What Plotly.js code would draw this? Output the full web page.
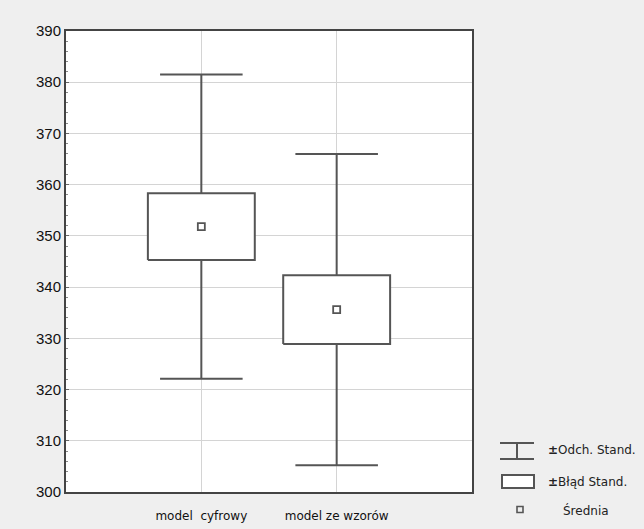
<!DOCTYPE html>
<html>
<head>
<meta charset="utf-8">
<script src="https://cdn.plot.ly/plotly-3.0.1.min.js"></script>
<style>html,body{margin:0;padding:0;background:#efefef;}#chart{width:644px;height:529px;}</style>
</head>
<body>
<div id="chart"></div>
<script>
const categories = ["model  cyfrowy", "model ze wzorów"];
const means = [351.8, 335.6];
const stdErr = [6.5, 6.7];
const stdDev = [29.7, 30.4];
const yTicks = [300, 310, 320, 330, 340, 350, 360, 370, 380, 390];

const boxHalf = 0.395;
const capHalf = 0.305;
const lineColor = '#555555';

const traces = [];
const shapes = [];
categories.forEach((c, i) => {
  const lo = means[i] - stdDev[i], hi = means[i] + stdDev[i];
  traces.push({x: [i, i], y: [lo, hi], mode: 'lines', line: {color: lineColor, width: 2}, hoverinfo: 'skip', showlegend: false});
  traces.push({x: [i - capHalf, i + capHalf], y: [hi, hi], mode: 'lines', line: {color: lineColor, width: 2}, hoverinfo: 'skip', showlegend: false});
  traces.push({x: [i - capHalf, i + capHalf], y: [lo, lo], mode: 'lines', line: {color: lineColor, width: 2}, hoverinfo: 'skip', showlegend: false});
  const b0 = means[i] - stdErr[i], b1 = means[i] + stdErr[i];
  traces.push({x: [i - boxHalf, i + boxHalf, i + boxHalf, i - boxHalf, i - boxHalf],
               y: [b0, b0, b1, b1, b0], mode: 'lines', fill: 'toself', fillcolor: '#ffffff',
               line: {color: lineColor, width: 2}, hoverinfo: 'skip', showlegend: false});
});
traces.push({x: categories.map((c, i) => i), y: means, mode: 'markers',
  marker: {symbol: 'square-open', size: 7, color: lineColor, line: {width: 1.8, color: lineColor}},
  hoverinfo: 'skip', showlegend: false});

// legend drawn in paper coordinates (plot area: x 66..472, y 31..492)
const px = x => (x - 66) / 406, py = y => (492 - y) / 461;
const L = {line: {color: lineColor, width: 2}, xref: 'paper', yref: 'paper', type: 'line', layer: 'above'};
shapes.push(Object.assign({}, L, {x0: px(500), x1: px(534), y0: py(443), y1: py(443)}));
shapes.push(Object.assign({}, L, {x0: px(500), x1: px(534), y0: py(459), y1: py(459)}));
shapes.push(Object.assign({}, L, {x0: px(517), x1: px(517), y0: py(443), y1: py(459)}));
shapes.push({type: 'rect', xref: 'paper', yref: 'paper', x0: px(502), x1: px(534), y0: py(475), y1: py(488), line: {color: lineColor, width: 2}, fillcolor: '#ffffff'});
shapes.push({type: 'rect', xref: 'paper', yref: 'paper', x0: px(517), x1: px(523), y0: py(506.5), y1: py(512.5), line: {color: lineColor, width: 1.6}, fillcolor: 'rgba(0,0,0,0)'});

const annFont = {family: 'DejaVu Sans, sans-serif', size: 12, color: '#222'};
const annotations = [
  {text: '<b>±</b>Odch. Stand.', x: px(546), y: py(450), xref: 'paper', yref: 'paper', xanchor: 'left', yanchor: 'middle', showarrow: false, font: annFont},
  {text: '<b>±</b>Błąd Stand.', x: px(546), y: py(482), xref: 'paper', yref: 'paper', xanchor: 'left', yanchor: 'middle', showarrow: false, font: annFont},
  {text: 'Średnia', x: px(561), y: py(510), xref: 'paper', yref: 'paper', xanchor: 'left', yanchor: 'middle', showarrow: false, font: annFont}
];

const layout = {
  width: 644, height: 529,
  margin: {l: 66, r: 172, t: 31, b: 37},
  paper_bgcolor: '#efefef', plot_bgcolor: '#ffffff',
  showlegend: false,
  xaxis: {range: [-1, 2], tickvals: categories.map((c, i) => i), ticktext: categories,
    showgrid: true, gridcolor: '#d4d4d4', gridwidth: 1, zeroline: false,
    showline: true, linecolor: '#444', linewidth: 2, mirror: true, ticks: '',
    ticklabelstandoff: 12,
    tickfont: {family: 'DejaVu Sans, sans-serif', size: 12, color: '#111'}},
  yaxis: {range: [300, 390], tickvals: yTicks, showgrid: true, gridcolor: '#d4d4d4', gridwidth: 1,
    zeroline: false, showline: true, linecolor: '#444', linewidth: 2, mirror: true,
    ticks: 'inside', ticklen: 3, tickcolor: '#666',
    minor: {dtick: 2, ticks: 'inside', ticklen: 2, tickcolor: '#888', showgrid: false},
    tickfont: {family: 'Liberation Sans, Arial, sans-serif', size: 15, color: '#111'}},
  shapes: shapes,
  annotations: annotations
};

Plotly.newPlot('chart', traces, layout, {displayModeBar: false, staticPlot: true});
</script>
</body>
</html>
